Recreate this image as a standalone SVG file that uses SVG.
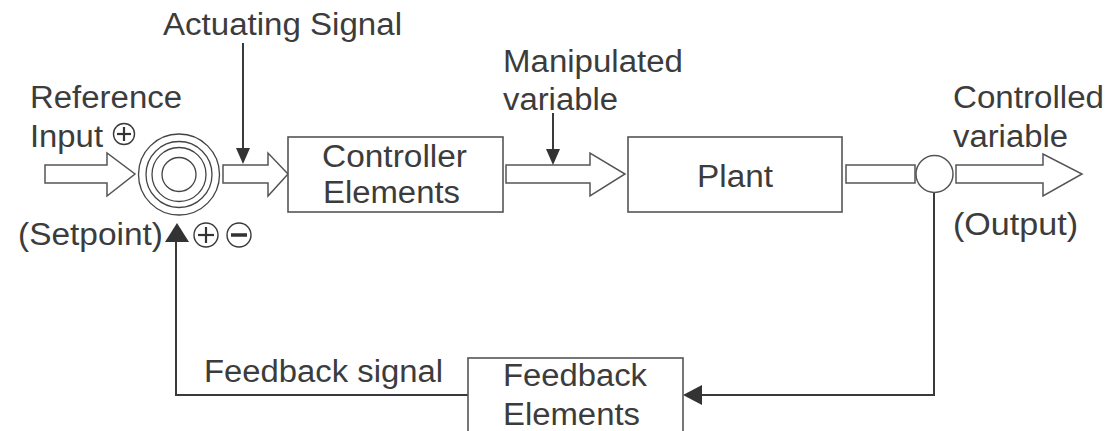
<svg xmlns="http://www.w3.org/2000/svg" width="1106" height="431" viewBox="0 0 1106 431">
<style>
  .lbl { font-family: "Liberation Sans", Arial, sans-serif; font-size: 31px; fill: #3c3c3c; }
  .box { fill: #ffffff; stroke: #555555; stroke-width: 1.6; }
  .barrow { fill: #ffffff; stroke: #555555; stroke-width: 1.5; stroke-linejoin: miter; }
  .ring { fill: none; stroke: #444444; stroke-width: 1.3; }
  .wire { fill: none; stroke: #3a3a3a; stroke-width: 2; }
  .head { fill: #333333; stroke: none; }
  .sign { fill: none; stroke: #3a3a3a; stroke-width: 1.4; }
  .bar { stroke: #333333; stroke-width: 2.2; stroke-linecap: butt; }
</style>
<rect width="1106" height="431" fill="#ffffff"/>

<g id="connectors">
  <!-- block arrows -->
  <polygon class="barrow" points="45,165 107,165 107,153 135,174 107,196 107,183 45,183"/>
  <polygon class="barrow" points="223,165 268,165 268,153 288,174 268,196 268,183 223,183"/>
  <polygon class="barrow" points="506,165 590,165 590,153 625,174 590,196 590,183 506,183"/>
  <rect class="barrow" x="846" y="165" width="69" height="18"/>
  <polygon class="barrow" points="956,165 1043,165 1043,154 1082,174 1043,196 1043,183 956,183"/>
  <!-- signal arrows -->
  <line class="wire" x1="243" y1="43" x2="243" y2="150"/>
  <polygon class="head" points="236,148 250,148 243,164"/>
  <line class="wire" x1="553" y1="113" x2="553" y2="151"/>
  <polygon class="head" points="546,149 560,149 553,165"/>
  <!-- feedback path -->
  <polyline class="wire" points="934,193 934,395 700,395"/>
  <polygon class="head" points="702,385 702,405 683,395"/>
  <polyline class="wire" points="468,395 176,395 176,240"/>
  <polygon class="head" points="165,242 189,242 177,223"/>
</g>

<g id="summing-junction">
  <circle class="ring" cx="179" cy="174.5" r="40.5"/>
  <circle class="ring" cx="179" cy="174.5" r="33"/>
  <circle class="ring" cx="179" cy="174.5" r="27"/>
  <circle class="ring" cx="179" cy="174.5" r="17"/>
</g>

<g id="signs">
  <circle class="sign" cx="124" cy="134" r="10.5"/>
  <line class="bar" x1="117" y1="134" x2="131" y2="134"/>
  <line class="bar" x1="124" y1="127" x2="124" y2="141"/>
  <circle class="sign" cx="206" cy="235" r="12"/>
  <line class="bar" x1="198" y1="235" x2="214" y2="235"/>
  <line class="bar" x1="206" y1="227" x2="206" y2="243"/>
  <circle class="sign" cx="239" cy="235" r="12"/>
  <line class="bar" x1="231" y1="235" x2="247" y2="235" style="stroke-width:3.5"/>
</g>

<g id="takeoff-point">
  <circle class="ring" cx="934.5" cy="174" r="18.5" style="stroke:#555555;stroke-width:1.5"/>
</g>

<g id="controller">
  <rect class="box" x="288" y="137" width="215" height="75"/>
  <text class="lbl" x="322" y="167" textLength="145" lengthAdjust="spacingAndGlyphs">Controller</text>
  <text class="lbl" x="323" y="203" textLength="137" lengthAdjust="spacingAndGlyphs">Elements</text>
</g>

<g id="plant">
  <rect class="box" x="628" y="137" width="214" height="75"/>
  <text class="lbl" x="697" y="187" textLength="76" lengthAdjust="spacingAndGlyphs">Plant</text>
</g>

<g id="feedback-elements">
  <rect class="box" x="468" y="358" width="215" height="80"/>
  <text class="lbl" x="503" y="386" textLength="144" lengthAdjust="spacingAndGlyphs">Feedback</text>
  <text class="lbl" x="503" y="425" textLength="137" lengthAdjust="spacingAndGlyphs">Elements</text>
</g>

<g id="labels">
  <text class="lbl" x="163" y="35" textLength="239" lengthAdjust="spacingAndGlyphs">Actuating Signal</text>
  <text class="lbl" x="30" y="108" textLength="152" lengthAdjust="spacingAndGlyphs">Reference</text>
  <text class="lbl" x="30" y="147" textLength="73" lengthAdjust="spacingAndGlyphs">Input</text>
  <text class="lbl" x="18" y="245" textLength="145" lengthAdjust="spacingAndGlyphs">(Setpoint)</text>
  <text class="lbl" x="503" y="72" textLength="180" lengthAdjust="spacingAndGlyphs">Manipulated</text>
  <text class="lbl" x="503" y="110" textLength="115" lengthAdjust="spacingAndGlyphs">variable</text>
  <text class="lbl" x="953" y="108" textLength="151" lengthAdjust="spacingAndGlyphs">Controlled</text>
  <text class="lbl" x="953" y="147" textLength="115" lengthAdjust="spacingAndGlyphs">variable</text>
  <text class="lbl" x="953" y="235" textLength="125" lengthAdjust="spacingAndGlyphs">(Output)</text>
  <text class="lbl" x="204" y="382" textLength="239" lengthAdjust="spacingAndGlyphs">Feedback signal</text>
</g>
</svg>
